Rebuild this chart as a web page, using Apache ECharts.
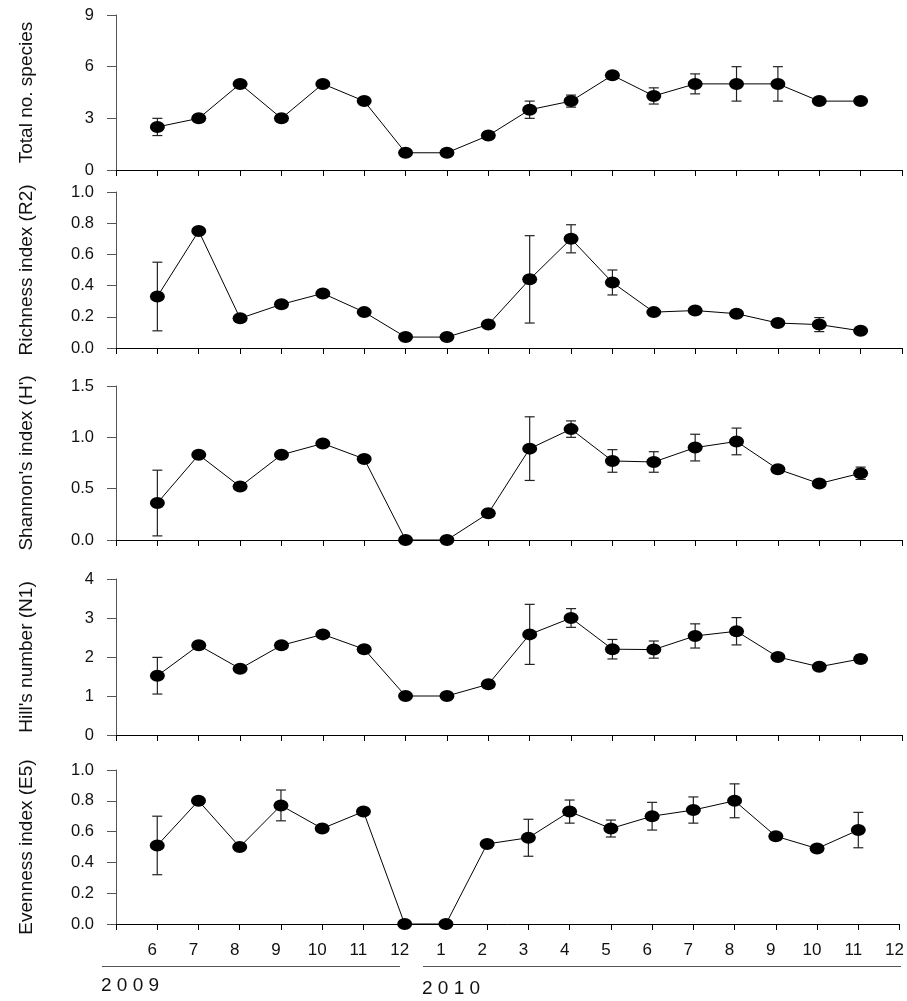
<!DOCTYPE html>
<html>
<head>
<meta charset="utf-8">
<script src="https://cdn.jsdelivr.net/npm/echarts@6/dist/echarts.min.js"></script>
<style>
  html, body { margin: 0; padding: 0; background: #fff; }
  #chart { width: 907px; height: 1001px; }
</style>
</head>
<body>
<div id="chart"></div>
<script>
// x ticks: index 0 is the axis origin, 1..18 = Jun 2009 .. Nov 2010, 19 = Dec 2010
var xTickLabels = ['', '6', '7', '8', '9', '10', '11', '12', '1', '2', '3', '4', '5', '6', '7', '8', '9', '10', '11', '12'];

var species    = [2.5, 3, 5, 3, 5, 4, 1, 1, 2, 3.5, 4, 5.5, 4.3, 5, 5, 5, 4, 4];
var speciesErr = [0.5, 0, 0, 0, 0, 0, 0, 0, 0, 0.5, 0.35, 0, 0.47, 0.58, 1, 1, 0, 0];

var richness    = [0.33, 0.75, 0.19, 0.28, 0.35, 0.23, 0.07, 0.07, 0.15, 0.44, 0.70, 0.42, 0.23, 0.24, 0.22, 0.16, 0.15, 0.11];
var richnessErr = [0.22, 0, 0, 0.02, 0, 0, 0, 0, 0, 0.28, 0.09, 0.08, 0, 0.02, 0.02, 0, 0.045, 0];

var shannon    = [0.36, 0.83, 0.52, 0.83, 0.94, 0.79, 0, 0, 0.26, 0.89, 1.08, 0.77, 0.76, 0.90, 0.96, 0.69, 0.55, 0.65];
var shannonErr = [0.32, 0, 0, 0.03, 0, 0, 0, 0, 0, 0.31, 0.08, 0.11, 0.10, 0.13, 0.13, 0, 0, 0.06];

var hill    = [1.52, 2.3, 1.7, 2.3, 2.58, 2.2, 1, 1, 1.3, 2.58, 3.0, 2.2, 2.19, 2.54, 2.66, 2.0, 1.75, 1.95];
var hillErr = [0.47, 0, 0, 0.05, 0, 0, 0, 0, 0, 0.77, 0.24, 0.25, 0.22, 0.31, 0.35, 0, 0, 0.1];

var evenness    = [0.51, 0.80, 0.50, 0.77, 0.62, 0.73, 0, 0, 0.52, 0.56, 0.73, 0.62, 0.70, 0.74, 0.80, 0.57, 0.49, 0.61];
var evennessErr = [0.19, 0, 0, 0.10, 0, 0, 0, 0, 0, 0.12, 0.075, 0.055, 0.09, 0.085, 0.11, 0.02, 0, 0.115];

var panels = [
  { name: 'Total no. species',  vals: species,  errs: speciesErr,  max: 9,   step: 3,   dec: 0, top: 15,  h: 155 },
  { name: 'Richness index (R2)', vals: richness, errs: richnessErr, max: 1.0, step: 0.2, dec: 1, top: 192, h: 156 },
  { name: "Shannon's index (H')", vals: shannon, errs: shannonErr, max: 1.5, step: 0.5, dec: 1, top: 386, h: 154 },
  { name: "Hill's number (N1)",  vals: hill,     errs: hillErr,     max: 4,   step: 1,   dec: 0, top: 579, h: 156 },
  { name: 'Evenness index (E5)', vals: evenness, errs: evennessErr, max: 1.0, step: 0.2, dec: 1, top: 770, h: 154 }
];

var FONT = 'Liberation Sans, Arial, sans-serif';
var grids = [], xAxes = [], yAxes = [], series = [];

panels.forEach(function (p, k) {
  var last = k === panels.length - 1;
  grids.push({ left: 116, width: 786, top: p.top, height: p.h });
  xAxes.push({
    type: 'value', gridIndex: k, min: 0, max: 19, interval: 1,
    axisLine: { lineStyle: { color: '#000', width: 1 } },
    axisTick: { show: true, length: 6, lineStyle: { color: '#000' } },
    splitLine: { show: false },
    axisLabel: {
      show: last, margin: 18, color: '#111', fontSize: 17, fontFamily: FONT,
      padding: [0, 10, 0, 0],
      formatter: function (v) { return xTickLabels[v] || ''; }
    }
  });
  yAxes.push({
    type: 'value', gridIndex: k, min: 0, max: p.max, interval: p.step,
    name: p.name, nameLocation: 'middle', nameRotate: 90, nameGap: 80,
    nameTextStyle: { color: '#111', fontSize: 19, fontFamily: FONT },
    axisLine: { show: true, lineStyle: { color: '#555', width: 1 } },
    axisTick: { show: true, length: 9, lineStyle: { color: '#555' } },
    splitLine: { show: false },
    axisLabel: {
      margin: 22, color: '#111', fontSize: 16.5, fontFamily: FONT,
      formatter: function (v) { return v.toFixed(p.dec); }
    }
  });

  var errData = [];
  p.vals.forEach(function (v, i) {
    if (p.errs[i] > 0) errData.push([i + 1, v - p.errs[i], v + p.errs[i]]);
  });
  series.push({
    type: 'custom', xAxisIndex: k, yAxisIndex: k, z: 2,
    encode: { x: 0, y: [1, 2] },
    data: errData,
    renderItem: function (params, api) {
      var lo = api.coord([api.value(0), api.value(1)]);
      var hi = api.coord([api.value(0), api.value(2)]);
      var st = { stroke: '#222', lineWidth: 1.2 };
      return {
        type: 'group',
        children: [
          { type: 'line', shape: { x1: lo[0], y1: lo[1], x2: hi[0], y2: hi[1] }, style: st },
          { type: 'line', shape: { x1: lo[0] - 5, y1: lo[1], x2: lo[0] + 5, y2: lo[1] }, style: st },
          { type: 'line', shape: { x1: hi[0] - 5, y1: hi[1], x2: hi[0] + 5, y2: hi[1] }, style: st }
        ]
      };
    }
  });
  series.push({
    type: 'line', xAxisIndex: k, yAxisIndex: k, z: 3,
    data: p.vals.map(function (v, i) { return [i + 1, v]; }),
    symbol: 'circle', symbolSize: [15, 12],
    itemStyle: { color: '#000' },
    lineStyle: { color: '#000', width: 1 },
    animation: false
  });
});

var chart = echarts.init(document.getElementById('chart'), null, { renderer: 'canvas' });
chart.setOption({
  backgroundColor: '#fff',
  animation: false,
  grid: grids,
  xAxis: xAxes,
  yAxis: yAxes,
  series: series,
  graphic: [
    { type: 'line', shape: { x1: 102, y1: 966.5, x2: 400, y2: 966.5 }, style: { stroke: '#555', lineWidth: 1 } },
    { type: 'line', shape: { x1: 423, y1: 966.5, x2: 901, y2: 966.5 }, style: { stroke: '#555', lineWidth: 1 } },
    { type: 'text', left: 101, top: 976, style: { text: '2 0 0 9', fill: '#111', fontSize: 19, fontFamily: FONT } },
    { type: 'text', left: 422, top: 979, style: { text: '2 0 1 0', fill: '#111', fontSize: 19, fontFamily: FONT } }
  ]
});
</script>
</body>
</html>
